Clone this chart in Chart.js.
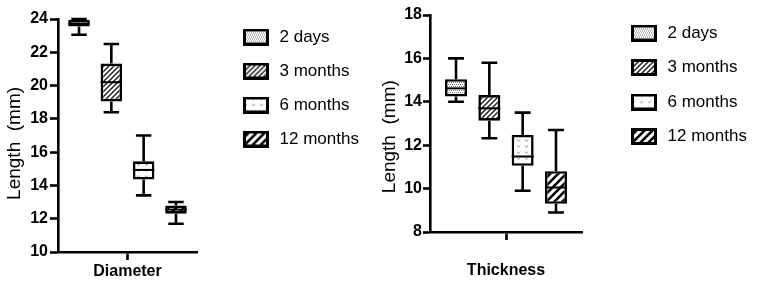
<!DOCTYPE html>
<html lang="en">
<head>
<meta charset="UTF-8" />
<title>Length box plots</title>
<script src="https://cdn.jsdelivr.net/npm/chart.js"></script>
<style>
  body { margin: 0; background: #fff; }
  #wrap { position: relative; width: 765px; height: 283px; }
  canvas { position: absolute; top: 0; }
</style>
</head>
<body>
<div id="wrap">
  <canvas id="diameterChart" width="380" height="283" style="left:0"></canvas>
  <canvas id="thicknessChart" width="385" height="283" style="left:380px"></canvas>
</div>
<script>
// periods shown in the legend
const periods = ['2 days', '3 months', '6 months', '12 months'];

// Diameter (mm): whisker low, Q1, median, Q3, whisker high
const diaMin = [23.05, 18.4, 13.4, 11.7];
const diaQ1 = [23.55, 19.05, 14.35, 12.3];
const diaMed = [23.72, 20.2, 14.93, 12.55];
const diaQ3 = [23.95, 21.32, 15.45, 12.8];
const diaMax = [24.0, 22.5, 17.0, 13.0];
const diaTicks = [10, 24, 2]; // min, max, step

// Thickness (mm)
const thkMin = [14.0, 12.32, 9.9, 8.9];
const thkQ1 = [14.25, 13.13, 11.05, 9.3];
const thkMed = [14.62, 13.7, 11.48, 10.05];
const thkQ3 = [15.04, 14.31, 12.47, 10.8];
const thkMax = [16.0, 15.8, 13.5, 12.7];
const thkTicks = [8, 18, 2];

Chart.defaults.font.family = "'Liberation Sans', Arial, sans-serif";
Chart.defaults.color = '#000';

// fill patterns, one per period
function tile(w, h, draw) {
  const c = document.createElement('canvas');
  c.width = w; c.height = h;
  const g = c.getContext('2d');
  g.fillStyle = '#fff';
  g.fillRect(0, 0, w, h);
  draw(g, w, h);
  return c;
}
function diag(g, s, lw, col) {
  g.strokeStyle = col; g.lineWidth = lw;
  g.beginPath();
  g.moveTo(0, s); g.lineTo(s, 0);
  g.moveTo(-2, 2); g.lineTo(2, -2);
  g.moveTo(s - 2, s + 2); g.lineTo(s + 2, s - 2);
  g.stroke();
}
const tiles = [
  tile(4, 4, g => {
    g.fillStyle = '#777';
    [[0, 0], [2, 0], [1, 2], [3, 2]].forEach(p => g.fillRect(p[0], p[1], 1, 1));
  }),
  tile(5, 5, (g, s) => diag(g, s, 1.5, '#222')),
  tile(8, 6, g => {
    g.strokeStyle = '#999'; g.lineWidth = 1;
    g.beginPath(); g.moveTo(1, 1.5); g.lineTo(2.5, 3.5); g.lineTo(4, 1.5); g.stroke();
  }),
  tile(8, 8, (g, s) => diag(g, s, 2.6, '#000'))
];
const ptx = document.createElement('canvas').getContext('2d');
const patterns = tiles.map(t => ptx.createPattern(t, 'repeat'));

// legend swatches
const swatches = tiles.map(t => {
  const c = document.createElement('canvas');
  c.width = 26; c.height = 17;
  const g = c.getContext('2d');
  g.fillStyle = g.createPattern(t, 'repeat');
  g.fillRect(0, 0, 26, 17);
  g.strokeStyle = '#000'; g.lineWidth = 3;
  g.strokeRect(1.5, 1.5, 23, 14);
  return c;
});

function spacer(pos, size) {
  return {
    type: 'linear', position: pos, display: true,
    grid: { display: false }, border: { display: false }, ticks: { display: false },
    afterFit: s => { if (pos === 'top') s.height = size; else s.width = size; }
  };
}

function makePanel(id, label, lo, q1, med, q3, hi, ticks, cfg) {
  const whiskers = {
    id: 'whiskers',
    afterDatasetsDraw(chart) {
      const ctx = chart.ctx, y = chart.scales.y;
      ctx.save();
      ctx.strokeStyle = '#000';
      chart.data.datasets.forEach((ds, i) => {
        const bar = chart.getDatasetMeta(i).data[0];
        const half = bar.width * 0.36;
        const pHi = y.getPixelForValue(hi[i]), pLo = y.getPixelForValue(lo[i]);
        ctx.lineWidth = 2.6;
        ctx.beginPath();
        ctx.moveTo(bar.x, y.getPixelForValue(q3[i])); ctx.lineTo(bar.x, pHi);
        ctx.moveTo(bar.x - half, pHi); ctx.lineTo(bar.x + half, pHi);
        ctx.moveTo(bar.x, y.getPixelForValue(q1[i])); ctx.lineTo(bar.x, pLo);
        ctx.moveTo(bar.x - half, pLo); ctx.lineTo(bar.x + half, pLo);
        ctx.stroke();
        const pm = y.getPixelForValue(med[i]);
        ctx.lineWidth = 2;
        ctx.beginPath();
        ctx.moveTo(bar.x - bar.width / 2, pm); ctx.lineTo(bar.x + bar.width / 2, pm);
        ctx.stroke();
      });
      ctx.restore();
    }
  };

  return new Chart(document.getElementById(id), {
    type: 'bar',
    data: {
      labels: [label],
      datasets: periods.map((p, i) => ({
        label: p,
        data: [[q1[i], q3[i]]],
        backgroundColor: patterns[i],
        borderColor: '#000',
        borderWidth: 2.6,
        borderSkipped: false,
        xAxisID: 'x',
        yAxisID: 'y',
        categoryPercentage: cfg.catPct,
        barPercentage: cfg.barPct
      }))
    },
    options: {
      responsive: false,
      animation: false,
      devicePixelRatio: 1,
      layout: { padding: cfg.padding },
      plugins: {
        tooltip: { enabled: false },
        legend: {
          position: 'right',
          align: 'start',
          maxWidth: 135,
          labels: {
            usePointStyle: true,
            pointStyleWidth: 30,
            padding: cfg.legendPad,
            color: '#000',
            font: { size: 17 },
            generateLabels: chart => chart.data.datasets.map((ds, i) => ({
              text: ds.label,
              pointStyle: swatches[i],
              fillStyle: '#fff',
              strokeStyle: '#000',
              lineWidth: 0,
              hidden: false,
              datasetIndex: i
            }))
          }
        }
      },
      scales: {
        x: {
          type: 'category',
          position: 'bottom',
          grid: { display: true, drawOnChartArea: false, offset: false, tickLength: 8, tickWidth: 2.6, color: '#000' },
          border: { display: true, color: '#000', width: 2.6 },
          ticks: { font: { size: 16, weight: 'bold' }, color: '#000', padding: cfg.xPad },
          afterFit: s => { s.height = cfg.xHeight; }
        },
        y: {
          type: 'linear',
          position: 'left',
          min: ticks[0],
          max: ticks[1],
          ticks: { stepSize: ticks[2], font: { size: 16, weight: 'bold' }, color: '#000', padding: cfg.yPad },
          grid: { display: true, drawOnChartArea: false, tickLength: cfg.yTick, tickWidth: 2.6, color: '#000' },
          border: { display: true, color: '#000', width: 2.6 },
          title: {
            display: true,
            text: 'Length  (mm)' + cfg.titleTail,
            font: { size: 19, lineHeight: 1 },
            color: '#000',
            padding: { top: cfg.titlePad, bottom: 0 }
          },
          afterFit: s => { s.width = cfg.yWidth; }
        },
        topGap: spacer('top', cfg.topGap),
        rightGap: spacer('right', cfg.rightGap)
      }
    },
    plugins: [whiskers]
  });
}

makePanel('diameterChart', 'Diameter', diaMin, diaQ1, diaMed, diaQ3, diaMax, diaTicks, {
  padding: { top: 11.5, right: 21, bottom: 0, left: 0 },
  catPct: 0.93, barPct: 0.665,
  legendPad: 17, xPad: 2, xHeight: 31,
  yPad: 2, yTick: 8, yWidth: 58,
  titlePad: 5, titleTail: '   ',
  topGap: 7.5, rightGap: 27
});

makePanel('thicknessChart', 'Thickness', thkMin, thkQ1, thkMed, thkQ3, thkMax, thkTicks, {
  padding: { top: 7, right: 18.5, bottom: 0, left: 0 },
  catPct: 0.877, barPct: 0.66,
  legendPad: 17.5, xPad: 21, xHeight: 51,
  yPad: 1, yTick: 7, yWidth: 50,
  titlePad: 0, titleTail: '     ',
  topGap: 8, rightGap: 29.5
});
</script>
</body>
</html>
